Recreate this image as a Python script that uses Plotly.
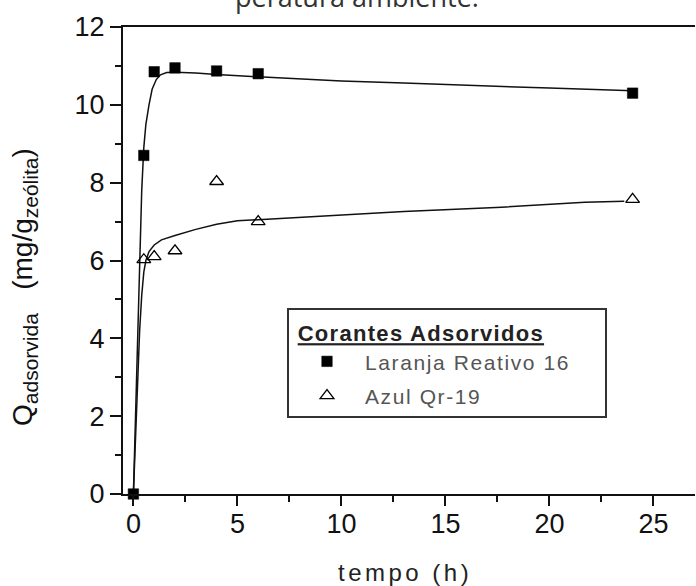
import plotly.graph_objects as go

# ---------------- data ----------------
t_laranja = [0, 0.5, 1, 2, 4, 6, 24]
q_laranja = [0, 8.7, 10.85, 10.95, 10.87, 10.8, 10.3]

t_azul = [0.5, 1, 2, 4, 6, 24]
q_azul = [6.02, 6.1, 6.25, 8.03, 7.0, 7.57]

# fitted curves
fit_t_laranja = [0, 0.05, 0.1, 0.2, 0.3, 0.4, 0.5, 0.6, 0.75, 0.9, 1.1, 1.3, 1.6,
                 2.0, 3.0, 4.0, 6.0, 8.0, 10.0, 13.0, 16.0, 20.0, 24.0]
fit_q_laranja = [0, 0.9, 2.0, 4.0, 6.0, 7.8, 8.9, 9.5, 10.0, 10.4, 10.65, 10.77, 10.83,
                 10.84, 10.82, 10.78, 10.72, 10.66, 10.61, 10.56, 10.5, 10.43, 10.36]

fit_t_azul = [0, 0.1, 0.2, 0.3, 0.4, 0.5, 0.6, 0.75, 1.0, 1.35, 2.0, 3.0, 4.0, 5.0,
              6.0, 8.0, 10.0, 13.0, 17.7, 21.7, 23.6]
fit_q_azul = [0, 1.5, 3.0, 4.2, 5.1, 5.7, 6.0, 6.23, 6.4, 6.53, 6.64, 6.8, 6.93, 7.02,
              7.05, 7.11, 7.17, 7.26, 7.37, 7.5, 7.52]

x_ticks = [0, 5, 10, 15, 20, 25]
y_ticks = [0, 2, 4, 6, 8, 10, 12]

serie_names = ["Laranja Reativo 16", "Azul Qr-19"]
legend_title = "Corantes Adsorvidos"

ARIAL = "Liberation Sans"
INK = "#111111"

fig = go.Figure()

# fitted lines (no legend)
fig.add_trace(go.Scatter(x=fit_t_laranja, y=fit_q_laranja, mode="lines",
                         line=dict(color=INK, width=1.5), showlegend=False,
                         hoverinfo="skip", cliponaxis=False))
fig.add_trace(go.Scatter(x=fit_t_azul, y=fit_q_azul, mode="lines",
                         line=dict(color=INK, width=1.5), showlegend=False,
                         hoverinfo="skip", cliponaxis=False))

NB = "\u00a0"
# experimental points
fig.add_trace(go.Scatter(
    x=t_laranja, y=q_laranja, mode="markers",
    name='<span style="letter-spacing:1.6px">' + serie_names[0] + '</span>' + NB * 5,
    legendgroup="a",
    marker=dict(symbol="square", size=10.5, color="#000000",
                line=dict(color="#000000", width=0.5)),
    cliponaxis=False))
fig.add_trace(go.Scatter(
    x=t_azul, y=q_azul, mode="markers",
    name='<span style="letter-spacing:1.6px">' + serie_names[1] + '</span>',
    legendgroup="b",
    marker=dict(symbol="triangle-up-open", size=12, color="#000000",
                line=dict(color="#000000", width=1.3)),
    cliponaxis=False))

fig.update_layout(
    width=696, height=586,
    margin=dict(l=123, r=1, t=27, b=92),
    paper_bgcolor="white", plot_bgcolor="white",
    font=dict(family=ARIAL, color=INK),
    showlegend=True,
    legend=dict(
        x=(287 - 123) / 572, y=(494 - 308) / 467,
        xanchor="left", yanchor="top",
        bgcolor="white", bordercolor="#333333", borderwidth=2,
        itemwidth=66, tracegroupgap=4,
        font=dict(family=ARIAL, size=21, color="#555555"),
        title=dict(text=NB + '<b><u><span style="letter-spacing:1.3px;font-size:22px">'
                   + legend_title + '</span></u></b>',
                   font=dict(family=ARIAL, size=24, color="#222222")),
    ),
    xaxis=dict(
        range=[-0.5, 27], tickvals=x_ticks, ticktext=[str(v) for v in x_ticks],
        showgrid=False, zeroline=False,
        showline=True, linecolor=INK, linewidth=2, mirror=True,
        ticks="outside", ticklen=10, tickwidth=1.5, tickcolor=INK,
        ticklabelstandoff=-5,
        tickfont=dict(family=ARIAL, size=27, color=INK),
        minor=dict(dtick=2.5, tick0=0, ticks="outside", ticklen=6,
                   tickwidth=1.5, tickcolor=INK),
    ),
    yaxis=dict(
        range=[0, 12], tickvals=y_ticks, ticktext=[str(v) for v in y_ticks],
        showgrid=False, zeroline=False,
        showline=True, linecolor=INK, linewidth=2, mirror=False,
        ticks="outside", ticklen=11, tickwidth=1.5, tickcolor=INK,
        tickfont=dict(family=ARIAL, size=27, color=INK),
        minor=dict(dtick=1, tick0=0, ticks="outside", ticklen=6,
                   tickwidth=1.5, tickcolor=INK),
    ),
    annotations=[
        dict(text='<span style="letter-spacing:3.5px">tempo (h)</span>',
             xref="paper", yref="paper", x=(405 - 123) / 572, y=(494 - 572) / 467,
             xanchor="center", yanchor="middle", showarrow=False,
             font=dict(family=ARIAL, size=24, color="#222222")),
        dict(text='Q<sub><span style="font-size:21px">adsorvida</span></sub>' + NB * 3
                  + '(mg/g<sub><span style="font-size:21px">zeólita</span></sub>)',
             xref="paper", yref="paper", x=(24 - 123) / 572, y=(494 - 287) / 467,
             xanchor="center", yanchor="middle", textangle=-90, showarrow=False,
             font=dict(family=ARIAL, size=28, color="#111111")),
        dict(text="peratura ambiente.",
             xref="paper", yref="paper", x=(357 - 123) / 572, y=(494 - 17) / 467,
             xanchor="center", yanchor="bottom", showarrow=False,
             font=dict(family="Open Sans", size=27, color="#333333")),
    ],
)

fig.write_html("out.html")
